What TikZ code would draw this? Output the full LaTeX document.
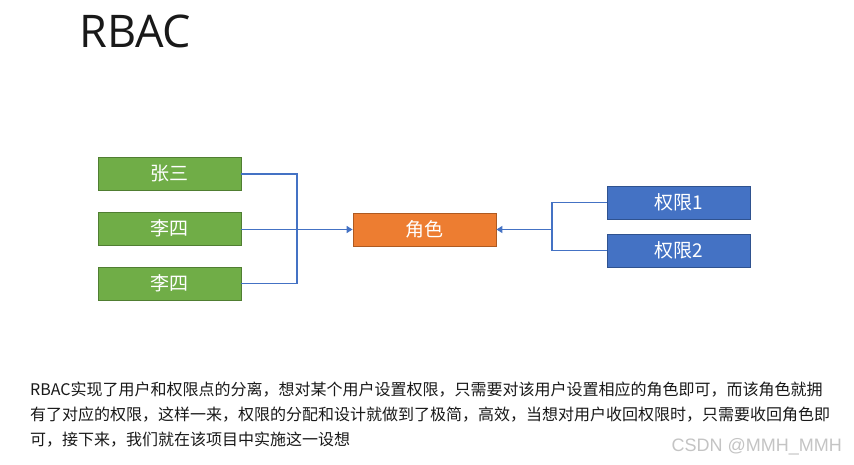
\documentclass[tikz,border=0pt]{standalone}
\usepackage{fontspec}
\setmainfont{Noto Sans CJK SC}
\newfontfamily\titlefont{Open Sans}
\newfontfamily\wmfont{Liberation Sans}
\usetikzlibrary{arrows.meta}
\definecolor{ggreen}{HTML}{70AD47}
\definecolor{ggreenD}{HTML}{507E32}
\definecolor{gorange}{HTML}{ED7D31}
\definecolor{gorangeD}{HTML}{AE5A21}
\definecolor{gblue}{HTML}{4472C4}
\definecolor{gblueD}{HTML}{2F528F}
\definecolor{wmgray}{HTML}{C4C4C4}
\tikzset{
  box/.style={minimum width=143pt, minimum height=33pt, inner sep=0pt, line width=0.8pt,
    text=white, font=\fontsize{19}{19}\selectfont},
  userbox/.style={box, fill=ggreen, draw=ggreenD},
  rolebox/.style={box, fill=gorange, draw=gorangeD},
  permbox/.style={box, fill=gblue, draw=gblueD},
  conn/.style={draw=gblue, line width=1.6pt},
  tip/.style={-{Triangle[width=7pt,length=6pt]}},
  para/.style={anchor=west, inner sep=0pt, font=\fontsize{16}{16}\selectfont, text=black!90}
}
\begin{document}
\begin{tikzpicture}[x=1pt,y=-1pt]
\useasboundingbox[fill=white] (0,0) rectangle (854,465);
\node[anchor=base west, inner sep=0pt, font=\titlefont\fontsize{45}{45}\selectfont, text=black!90] (title) at (79,48) {RBAC};

\node[userbox] (u1) at (169.5,174) {张三};
\node[userbox] (u2) at (169.5,228.5) {李四};
\node[userbox] (u3) at (169.5,283.5) {李四};
\node[rolebox] (role) at (424.5,229.5) {角色};
\node[permbox] (p1) at (679,202.5) {权限1};
\node[permbox] (p2) at (679,250.5) {权限2};

\coordinate (jl) at (297,229.5);
\coordinate (jr) at (552,229.5);

\draw[conn] (u1.east) -| (jl);
\draw[conn] (u3.east) -| (jl);
\draw[conn, tip] (u2.east |- jl) -- (role.west);
\draw[conn] (p1.west) -| (jr);
\draw[conn] (p2.west) -| (jr);
\draw[conn, tip] (jr) -- (role.east);

\node[para] (l1) at (30,390) {RBAC实现了用户和权限点的分离，想对某个用户设置权限，只需要对该用户设置相应的角色即可，而该角色就拥};
\node[para] (l2) at (30,415) {有了对应的权限，这样一来，权限的分配和设计就做到了极简，高效，当想对用户收回权限时，只需要收回角色即};
\node[para] (l3) at (30,440) {可，接下来，我们就在该项目中实施这一设想};

\node[anchor=east, inner sep=0pt, font=\wmfont\fontsize{18}{18}\selectfont, text=wmgray] (wm) at (842,446.5) {CSDN @MMH\_MMH};
\end{tikzpicture}
\end{document}
